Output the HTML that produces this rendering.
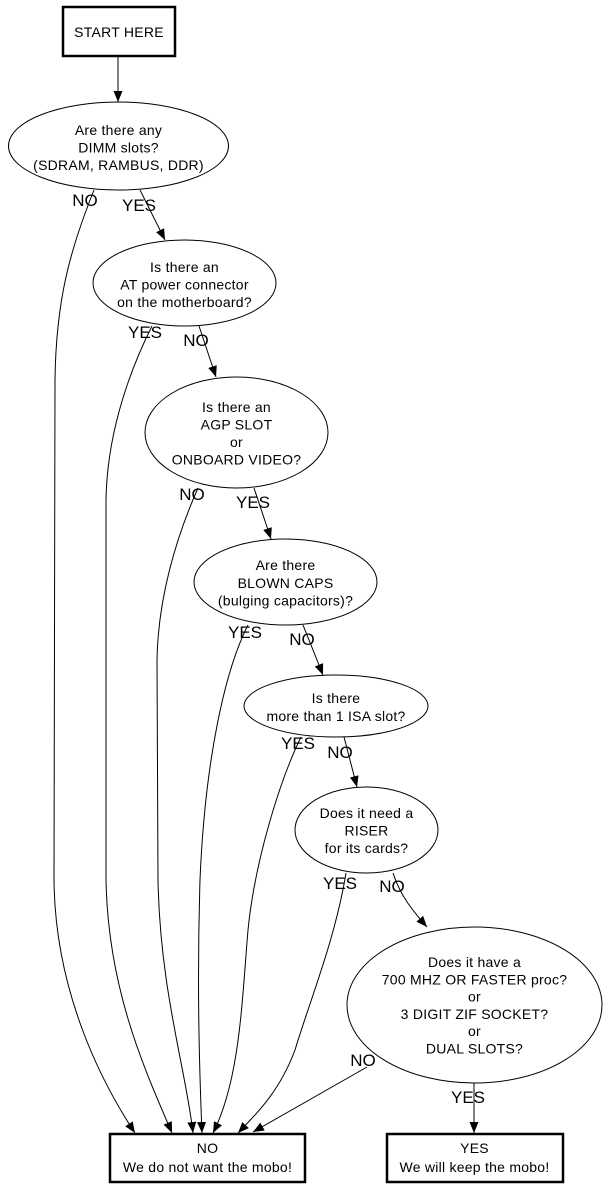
<!DOCTYPE html>
<html>
<head>
<meta charset="utf-8">
<style>
html,body{margin:0;padding:0;background:#fff;}
svg{display:block;}
text{font-family:"Liberation Sans",Arial,sans-serif;fill:#000;}
.n{font-size:14px;letter-spacing:0.25px;text-anchor:middle;}
.l{font-size:17px;text-anchor:middle;}
.e{fill:none;stroke:#000;stroke-width:1;}
</style>
</head>
<body>
<svg width="611" height="1188" viewBox="0 0 611 1188" xmlns="http://www.w3.org/2000/svg">
<defs>
<marker id="a" markerUnits="userSpaceOnUse" markerWidth="11" markerHeight="9" refX="11" refY="4.5" orient="auto">
<path d="M0,0 L11,4.5 L0,9 z" fill="#000"/>
</marker>
</defs>

<!-- START -->
<rect x="63" y="7" width="112" height="49" fill="#fff" stroke="#000" stroke-width="2.5"/>
<text class="n" x="119" y="37">START HERE</text>

<!-- nodes -->
<ellipse cx="118.5" cy="146" rx="110" ry="44" class="e"/>
<text class="n" x="118.5" y="135">Are there any</text>
<text class="n" x="118.5" y="152.5">DIMM slots?</text>
<text class="n" x="118.5" y="170">(SDRAM, RAMBUS, DDR)</text>

<ellipse cx="184.5" cy="283" rx="91.5" ry="43" class="e"/>
<text class="n" x="184.5" y="272">Is there an</text>
<text class="n" x="184.5" y="289.5">AT power connector</text>
<text class="n" x="184.5" y="307">on the motherboard?</text>

<ellipse cx="236.5" cy="432.5" rx="91.5" ry="55.5" class="e"/>
<text class="n" x="236.5" y="412">Is there an</text>
<text class="n" x="236.5" y="429.5">AGP SLOT</text>
<text class="n" x="236.5" y="447">or</text>
<text class="n" x="236.5" y="464.5">ONBOARD VIDEO?</text>

<ellipse cx="285.5" cy="582" rx="91.5" ry="43" class="e"/>
<text class="n" x="285.5" y="570">Are there</text>
<text class="n" x="285.5" y="588">BLOWN CAPS</text>
<text class="n" x="285.5" y="605.5">(bulging capacitors)?</text>

<ellipse cx="336" cy="706" rx="92" ry="31" class="e"/>
<text class="n" x="336" y="703">Is there</text>
<text class="n" x="336" y="721">more than 1 ISA slot?</text>

<ellipse cx="366.5" cy="830" rx="71.5" ry="43" class="e"/>
<text class="n" x="366.5" y="818">Does it need a</text>
<text class="n" x="366.5" y="835.5">RISER</text>
<text class="n" x="366.5" y="853">for its cards?</text>

<ellipse cx="474.5" cy="1005" rx="127.5" ry="78" class="e"/>
<text class="n" x="474.5" y="967">Does it have a</text>
<text class="n" x="474.5" y="984.3">700 MHZ OR FASTER proc?</text>
<text class="n" x="474.5" y="1001.6">or</text>
<text class="n" x="474.5" y="1018.9">3 DIGIT ZIF SOCKET?</text>
<text class="n" x="474.5" y="1036.2">or</text>
<text class="n" x="474.5" y="1053.5">DUAL SLOTS?</text>

<!-- result boxes -->
<rect x="110" y="1134" width="195" height="48" fill="#fff" stroke="#000" stroke-width="2.5"/>
<text class="n" x="207.5" y="1153">NO</text>
<text class="n" x="207.5" y="1172">We do not want the mobo!</text>

<rect x="387" y="1134" width="176" height="48" fill="#fff" stroke="#000" stroke-width="2.5"/>
<text class="n" x="474.5" y="1153">YES</text>
<text class="n" x="474.5" y="1172">We will keep the mobo!</text>

<!-- edges -->
<path class="e" d="M118,56 L118,102" marker-end="url(#a)"/>
<path class="e" d="M140,190 L165,240" marker-end="url(#a)"/>
<path class="e" d="M199,326 L216,377" marker-end="url(#a)"/>
<path class="e" d="M254,488 L271,539" marker-end="url(#a)"/>
<path class="e" d="M303,625 L323,675" marker-end="url(#a)"/>
<path class="e" d="M344,737 L357,787" marker-end="url(#a)"/>
<path class="e" d="M393,873 C400,895 412,910 427,927" marker-end="url(#a)"/>
<path class="e" d="M474,1083 L474,1133" marker-end="url(#a)"/>

<path class="e" d="M94,190 C70,250 56,300 55,380 L54,880 C55,990 100,1080 135,1133" marker-end="url(#a)"/>
<path class="e" d="M152,326 C125,380 107,440 106,500 L106,880 C108,990 145,1070 172,1133" marker-end="url(#a)"/>
<path class="e" d="M198,488 C175,540 158,600 157,660 L158,880 C160,990 186,1070 193,1133" marker-end="url(#a)"/>
<path class="e" d="M248,625 C225,670 205,760 200,880 C197,980 199,1060 202,1133" marker-end="url(#a)"/>
<path class="e" d="M301,737 C280,780 255,860 248,930 C242,1000 240,1080 213,1133" marker-end="url(#a)"/>
<path class="e" d="M346,873 C335,940 310,1000 295,1050 C280,1090 260,1110 238,1133" marker-end="url(#a)"/>
<path class="e" d="M367,1067 L253,1132" marker-end="url(#a)"/>

<!-- edge labels -->
<text class="l" x="85" y="206">NO</text>
<text class="l" x="139" y="211">YES</text>
<text class="l" x="145" y="338">YES</text>
<text class="l" x="196" y="346">NO</text>
<text class="l" x="192" y="500">NO</text>
<text class="l" x="253" y="508">YES</text>
<text class="l" x="245" y="638">YES</text>
<text class="l" x="302" y="645">NO</text>
<text class="l" x="298" y="749">YES</text>
<text class="l" x="340" y="758">NO</text>
<text class="l" x="340" y="889">YES</text>
<text class="l" x="392" y="892">NO</text>
<text class="l" x="363" y="1066">NO</text>
<text class="l" x="468" y="1103">YES</text>
</svg>
</body>
</html>
